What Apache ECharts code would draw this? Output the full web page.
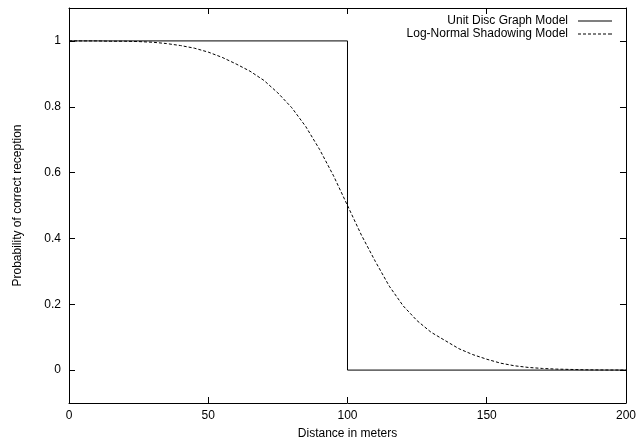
<!DOCTYPE html>
<html>
<head>
<meta charset="utf-8">
<script src="https://cdn.jsdelivr.net/npm/echarts@6/dist/echarts.min.js"></script>
<style>
html,body{margin:0;padding:0;background:#fff;}
#chart{width:639px;height:445px;}
</style>
</head>
<body>
<div id="chart"></div>
<script>
// Data
const seriesNames = ['Unit Disc Graph Model', 'Log-Normal Shadowing Model'];
const unitDiscX = [0, 100, 100, 200];
const unitDiscY = [1, 1, 0, 0];
const shadowX = [0,5,10,15,20,25,30,35,40,45,50,55,60,65,70,75,80,85,90,95,100,105,110,115,120,125,130,135,140,145,150,155,160,165,170,175,180,185,190,195,200];
const shadowY = [1.000,1.000,1.000,0.999,0.999,0.998,0.996,0.992,0.986,0.978,0.966,0.950,0.930,0.908,0.880,0.842,0.797,0.740,0.670,0.590,0.500,0.410,0.330,0.255,0.195,0.150,0.115,0.090,0.065,0.047,0.033,0.021,0.013,0.008,0.005,0.003,0.002,0.001,0.0005,0.0002,0.0001];
const xTicks = [0, 50, 100, 150, 200];
const yTicks = [0, 0.2, 0.4, 0.6, 0.8, 1];
const xTitle = 'Distance in meters';
const yTitle = 'Probability of correct reception';

const font = 'Liberation Sans, Arial, Helvetica, sans-serif';
const zip = (xs, ys) => xs.map((x, i) => [x, ys[i]]);

// legend sample glyphs (solid line, dashed line)
const solidIcon = 'path://M0,0H34V1H0Z';
const dashedIcon = 'path://M0,0H3V1H0Z M5,0H8V1H5Z M10,0H13V1H10Z M15,0H18V1H15Z M20,0H23V1H20Z M25,0H28V1H25Z M30,0H34V1H30Z';

const lineAxis = {show: true, onZero: false, lineStyle: {color: '#000', width: 1}};
const tick = {show: true, inside: true, length: 6, lineStyle: {color: '#000', width: 1}};
const legendText = {fontFamily: font, fontSize: 12, color: '#000', padding: [0, 5, 0, 0]};

const chart = echarts.init(document.getElementById('chart'), null, {renderer: 'canvas'});
chart.setOption({
  animation: false,
  backgroundColor: '#fff',
  grid: {left: 69, right: 10, top: 8, bottom: 39, containLabel: false},
  legend: [
    {data: [{name: seriesNames[0], icon: solidIcon}], right: 27, top: 15, orient: 'vertical', align: 'right', padding: 0,
     itemWidth: 34, itemHeight: 1, textStyle: legendText},
    {data: [{name: seriesNames[1], icon: dashedIcon}], right: 27, top: 28, orient: 'vertical', align: 'right', padding: 0,
     itemWidth: 34, itemHeight: 1, textStyle: legendText}
  ],
  xAxis: [
    {type: 'value', position: 'bottom', min: 0, max: 200, interval: 50,
     name: xTitle, nameLocation: 'middle', nameGap: 25,
     nameTextStyle: {fontFamily: font, fontSize: 12, color: '#000'},
     axisLine: lineAxis, axisTick: tick, splitLine: {show: false},
     axisLabel: {fontFamily: font, fontSize: 12, color: '#000', margin: 7, customValues: xTicks}
    },
    {type: 'value', position: 'top', min: 0, max: 200, interval: 50,
     axisLine: lineAxis, axisTick: tick, splitLine: {show: false}, axisLabel: {show: false}}
  ],
  yAxis: [
    {type: 'value', position: 'left', min: -0.1, max: 1.1,
     name: yTitle, nameLocation: 'middle', nameGap: 45, nameRotate: 90,
     nameTextStyle: {fontFamily: font, fontSize: 12, color: '#000'},
     axisLine: lineAxis,
     axisTick: Object.assign({}, tick, {customValues: yTicks}),
     splitLine: {show: false},
     axisLabel: {fontFamily: font, fontSize: 12, color: '#000', margin: 8, customValues: yTicks,
                 formatter: v => String(v)}},
    {type: 'value', position: 'right', min: -0.1, max: 1.1,
     axisLine: lineAxis,
     axisTick: Object.assign({}, tick, {customValues: yTicks}),
     splitLine: {show: false}, axisLabel: {show: false}}
  ],
  series: [
    {name: seriesNames[0], type: 'line', xAxisIndex: 0, yAxisIndex: 0, data: zip(unitDiscX, unitDiscY),
     symbol: 'none', showSymbol: false, lineStyle: {color: '#000', width: 1, type: 'solid'}, itemStyle: {color: '#000'}},
    {name: seriesNames[1], type: 'line', xAxisIndex: 0, yAxisIndex: 0, data: zip(shadowX, shadowY),
     symbol: 'none', showSymbol: false,
     lineStyle: {color: '#000', width: 1, type: [3, 2]}, itemStyle: {color: '#000'}}
  ]
});
</script>
</body>
</html>
